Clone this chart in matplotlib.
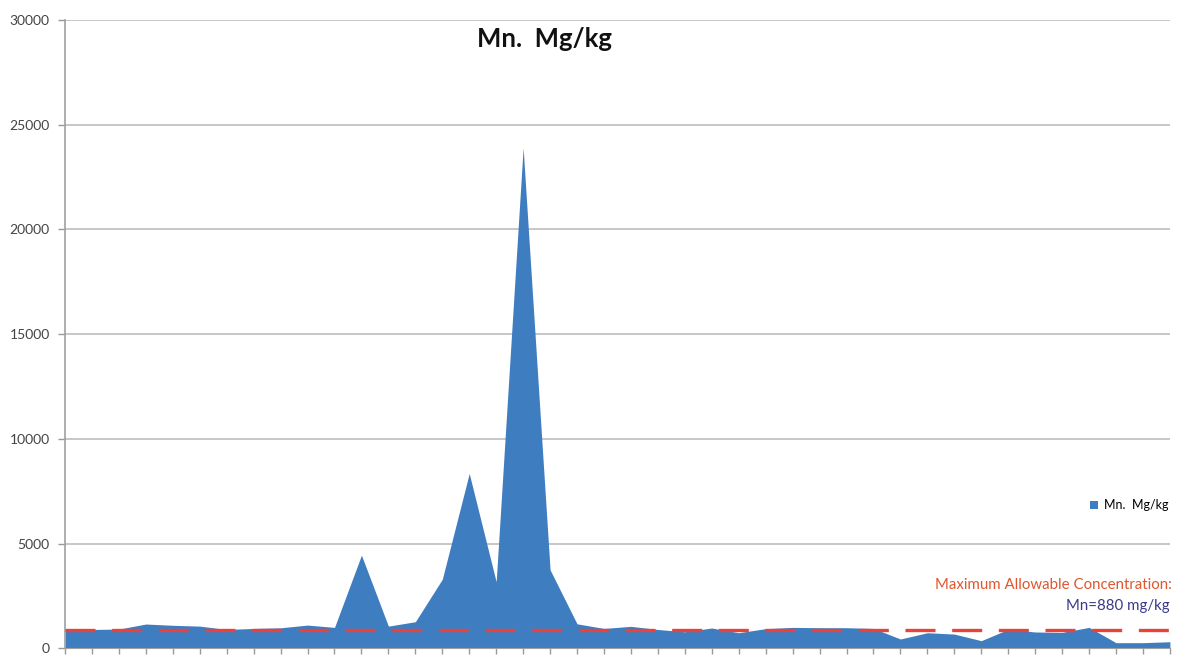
import matplotlib
matplotlib.use("Agg")
import matplotlib.pyplot as plt
from matplotlib.patches import Patch

# Mn concentration (mg/kg) at each sampling point
samples = list(range(1, 43))
mn_values = [900, 900, 920, 1160, 1100, 1060, 900, 950, 980, 1110,
             1000, 4450, 1060, 1270, 3300, 8350, 3180, 23900, 3750, 1170,
             950, 1050, 900, 790, 970, 745, 940, 1000, 985, 985,
             950, 445, 745, 680, 365, 905, 780, 760, 1000, 270,
             270, 315]
mac_limit = 880
y_ticks = [0, 5000, 10000, 15000, 20000, 25000, 30000]

plt.rcParams['font.family'] = ['Lato', 'DejaVu Sans']

fig = plt.figure(figsize=(11.95, 6.56), dpi=100)
ax = fig.add_axes([0.0544, 0.0117, 0.9246, 0.9578])

x = list(range(len(samples)))
blue = '#3f7dc1'
ax.fill_between(x, 0, mn_values, color=blue, linewidth=0, zorder=2)
ax.axhline(mac_limit, color='#e8423a', linewidth=2.4, dashes=(9, 5), zorder=3)

ax.set_xlim(0, len(samples) - 1)
ax.set_ylim(0, 30000)
ax.set_yticks(y_ticks)
ax.set_yticklabels([str(v) for v in y_ticks], fontsize=10, color='#444444')
ax.set_xticks(x)
ax.set_xticklabels([])
ax.tick_params(axis='x', length=4, color='#999999', width=1)
ax.tick_params(axis='y', length=5, color='#999999', width=1, pad=6)
ax.grid(axis='y', color='#bdbdbd', linewidth=1.2, zorder=0)
ax.set_axisbelow(True)

for side in ('top', 'right'):
    ax.spines[side].set_visible(False)
ax.spines['left'].set_color('#a0a0a0')
ax.spines['left'].set_linewidth(1.2)
ax.spines['bottom'].set_color('#a0a0a0')

fig.text(0.456, 0.94, 'Mn.  Mg/kg', fontsize=18.5, fontweight='bold',
         ha='center', va='center', color='#111111')

legend_handle = Patch(facecolor=blue, edgecolor='none', label='Mn.  Mg/kg')
fig.legend(handles=[legend_handle], loc='center left',
           bbox_to_anchor=(0.903, 0.23), frameon=False, fontsize=9,
           handlelength=0.6, handleheight=0.6, handletextpad=0.5)

fig.text(0.981, 0.108, 'Maximum Allowable Concentration:', fontsize=10.8,
         ha='right', va='center', color='#e0562e')
fig.text(0.979, 0.076, 'Mn=880 mg/kg', fontsize=10.8,
         ha='right', va='center', color='#3a3a8c')

fig.savefig('out.png', dpi=100)
